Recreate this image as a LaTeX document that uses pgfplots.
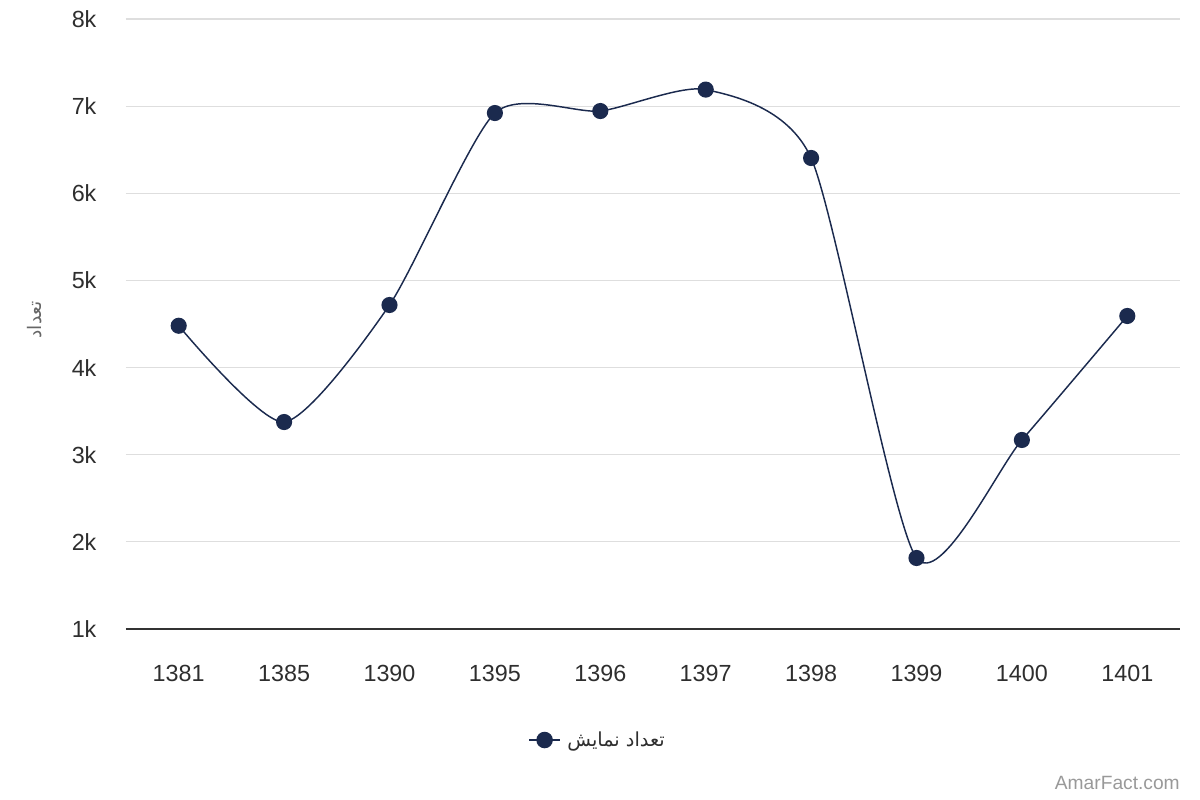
\documentclass[border=0pt]{standalone}
\usepackage{pgfplots}
\pgfplotsset{compat=1.18}
\usepackage{fontspec}
\setmainfont{Liberation Sans}
\newfontfamily\arabicfont[Script=Arabic]{DejaVu Sans}
\TeXXeTstate=1
\definecolor{navy}{HTML}{1B2A4E}
\definecolor{gridc}{HTML}{DEDEDE}
\definecolor{axc}{HTML}{333333}
\definecolor{lab}{HTML}{666666}
\definecolor{wm}{HTML}{999999}
\begin{document}
\begin{tikzpicture}[x=0.75pt,y=0.75pt]
\path[use as bounding box] (0,0) rectangle (1200,800);
\begin{axis}[
  at={(126*0.75pt,171*0.75pt)}, anchor=south west,
  scale only axis,
  width=790.5pt, height=457.5pt,
  xmin=-0.5, xmax=9.5, ymin=1000, ymax=8000,
  xtick={0,...,9},
  xticklabels={1381,1385,1390,1395,1396,1397,1398,1399,1400,1401},
  ytick={1000,2000,...,8000},
  yticklabels={1k,2k,3k,4k,5k,6k,7k,8k},
  major tick length=0,
  axis x line*=bottom,
  axis y line*=left,
  y axis line style={draw=none},
  x axis line style={color=axc, line width=1.4pt},
  ymajorgrids,
  major grid style={color=gridc, line width=0.8pt},
  /pgf/number format/assume math mode=true,
  ticklabel style={font=\fontsize{17.5}{20}\selectfont, text=axc!90!black},
  yticklabel style={anchor=east, inner sep=0pt, xshift=-22pt},
  xticklabel style={anchor=north, inner sep=0pt, yshift=-27pt},
  ylabel={\arabicfont\beginR تعداد\endR},
  ylabel style={at={(axis description cs:-0.0863,0.507)}, anchor=center, font=\fontsize{14}{16}\selectfont, text=lab},
  legend style={at={(axis description cs:0.4497,-0.182)}, anchor=center, draw=none, fill=none,
    font=\fontsize{14.5}{16}\selectfont, text=axc!90!black, legend cell align=left,
    nodes={inner xsep=5pt}},
  legend image code/.code={\draw[#1, mark repeat=2, mark phase=2, line width=1.4pt] plot coordinates {(0cm,0cm) (0.4cm,0cm) (0.8cm,0cm)};},
  clip=false,
]
\addplot[navy, line width=1.1pt, smooth, tension=0.4, mark=*, mark size=5.5pt, mark options={fill=navy, draw=navy}]
  coordinates {(0,4480) (1,3375) (2,4718) (3,6921) (4,6944) (5,7190) (6,6405) (7,1815) (8,3169) (9,4592)};
\addlegendentry{\arabicfont\beginR تعداد نمایش\endR}
\node[anchor=east, font=\fontsize{14.4}{16}\selectfont, text=wm, inner sep=0pt] at (axis description cs:1.0,-0.2525) {AmarFact.com};
\end{axis}
\end{tikzpicture}
\end{document}
